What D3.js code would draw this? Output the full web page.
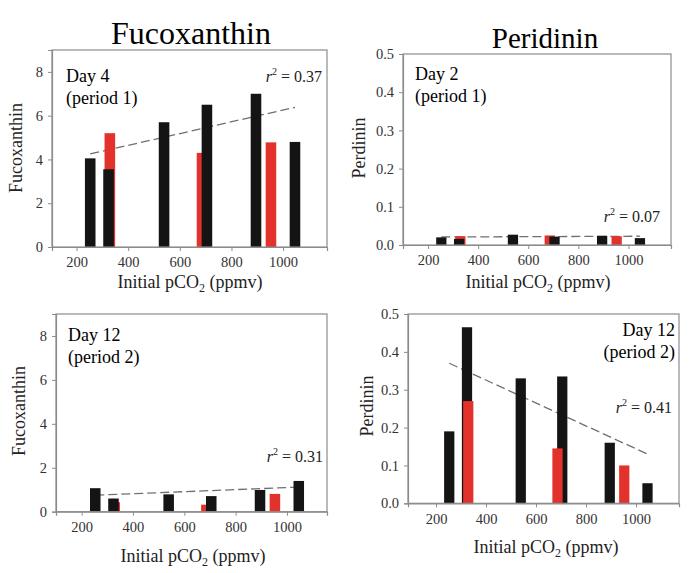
<!DOCTYPE html>
<html>
<head>
<meta charset="utf-8">
<script src="https://cdn.jsdelivr.net/npm/d3@7"></script>
<style>
  html, body { margin: 0; padding: 0; background: #fff; }
  svg { display: block; }
  svg text { font-family: "Liberation Serif", "Times New Roman", serif; }
</style>
</head>
<body>
<svg id="chart" width="694" height="573"></svg>
<script>
// ---------- data ----------
const xTickValues = [200, 400, 600, 800, 1000];
const fucoTicks = [0, 2, 4, 6, 8];
const periTicks = [0, 0.1, 0.2, 0.3, 0.4, 0.5];

// initial pCO2 of each mesocosm (black = one treatment, red = other)
const blackCO2 = [253, 324, 539, 705, 895, 1046];
const redCO2 = [329, 686, 953];

// Fucoxanthin, Day 4 (period 1)
const fucoDay4Black = [4.05, 3.55, 5.7, 6.5, 7.0, 4.8];
const fucoDay4Red = [5.2, 4.3, 4.78];
const fucoDay4Trend = [4.25, 6.38];
// Perdinin, Day 2 (period 1)
const periDay2Black = [0.020, 0.016, 0.027, 0.022, 0.024, 0.018];
const periDay2Red = [0.023, 0.025, 0.023];
const periDay2Trend = [0.021, 0.023];
// Fucoxanthin, Day 12 (period 2)
const fucoDay12Black = [1.07, 0.6, 0.79, 0.71, 0.99, 1.40];
const fucoDay12Red = [0.43, 0.32, 0.81];
const fucoDay12Trend = [0.75, 1.12];
// Perdinin, Day 12 (period 2)
const periDay12Black = [0.19, 0.465, 0.33, 0.335, 0.16, 0.053];
const periDay12Red = [0.27, 0.145, 0.10];
const periDay12Trend = [0.37, 0.13];
const trendCO2 = [253, 1046];

const r2Labels = ["0.37", "0.07", "0.31", "0.41"];

// ---------- drawing ----------
const svg = d3.select("#chart");
const FONT = '"Liberation Serif", "Times New Roman", serif';
const FRAME = "#8c8c8c";
const BLACK = "#141414";
const RED = "#e3312b";
const BAR_W = 41; // in ppmv units

svg.append("text").attr("x", 191).attr("y", 44).attr("text-anchor", "middle")
  .attr("font-size", 32).attr("fill", "#000").text("Fucoxanthin");
svg.append("text").attr("x", 545).attr("y", 48).attr("text-anchor", "middle")
  .attr("font-size", 29).attr("fill", "#000").text("Peridinin");

function panel(p) {
  const g = svg.append("g");
  const x = d3.scaleLinear().domain(p.xDomain).range([p.left, p.right]);
  const y = d3.scaleLinear().domain(p.yDomain).range([p.bottom, p.top]);
  const bw = x(BAR_W) - x(0);

  // trend line (behind the bars)
  g.append("path")
    .attr("d", d3.line().x(d => x(d[0])).y(d => y(d[1]))(d3.zip(trendCO2, p.trend)))
    .attr("fill", "none").attr("stroke", "#707070").attr("stroke-width", 1.3)
    .attr("stroke-dasharray", "9,4");

  const blacks = d3.zip(blackCO2, p.black);
  const reds = d3.zip(redCO2, p.red);
  const drawBars = (data, color) => g.append("g").selectAll("rect").data(data).join("rect")
    .attr("x", d => x(d[0]) - bw / 2).attr("width", bw)
    .attr("y", d => y(d[1])).attr("height", d => y(0) - y(d[1]))
    .attr("fill", color);
  if (p.redOnTop) { drawBars(blacks, BLACK); drawBars(reds, RED); }
  else { drawBars(reds, RED); drawBars(blacks, BLACK); }

  // frame
  g.append("rect").attr("x", p.left).attr("y", p.top)
    .attr("width", p.right - p.left).attr("height", p.bottom - p.top)
    .attr("fill", "none").attr("stroke", FRAME).attr("stroke-width", 1.2);

  const xa = g.append("g").attr("transform", `translate(0,${p.bottom})`)
    .call(d3.axisBottom(x).tickValues(xTickValues).tickSize(4).tickPadding(6).tickFormat(d3.format("d")));
  const ya = g.append("g").attr("transform", `translate(${p.left},0)`)
    .call(d3.axisLeft(y).tickValues(p.yTicks).tickSize(4).tickPadding(5).tickFormat(p.fmt));
  [xa, ya].forEach(a => {
    a.attr("font-family", null).attr("font-size", null);
    a.select(".domain").attr("stroke", FRAME).attr("stroke-width", 1.2);
    a.selectAll(".tick line").attr("stroke", FRAME);
    a.selectAll(".tick text").style("font-family", FONT)
      .style("font-size", "14.5px").attr("fill", "#333");
  });

  // axis titles
  const xt = g.append("text").attr("x", p.xTitleX).attr("y", p.xTitleY)
    .attr("text-anchor", "middle").attr("font-size", 18).attr("fill", "#222");
  xt.append("tspan").text("Initial pCO");
  xt.append("tspan").attr("font-size", 12).attr("dy", 4).text("2");
  xt.append("tspan").attr("dy", -4).text(" (ppmv)");

  g.append("text").attr("transform", `translate(${p.yTitleX},${p.yTitleY}) rotate(-90)`)
    .attr("text-anchor", "middle").attr("font-size", 18).attr("fill", "#222").text(p.yTitle);

  // day labels
  const anchor = p.dayAnchor || "start";
  g.append("text").attr("x", p.dayX).attr("y", p.dayY).attr("text-anchor", anchor)
    .attr("font-size", 18).attr("fill", "#000").text(p.day);
  g.append("text").attr("x", p.dayX).attr("y", p.dayY + 22).attr("text-anchor", anchor)
    .attr("font-size", 18).attr("fill", "#000").text(p.period);

  // r^2
  const rt = g.append("text").attr("x", p.r2X).attr("y", p.r2Y).attr("text-anchor", "end")
    .attr("font-size", 16).attr("fill", "#222");
  rt.append("tspan").attr("font-style", "italic").text("r");
  rt.append("tspan").attr("font-size", 10).attr("dy", -7).text("2");
  rt.append("tspan").attr("dy", 7).text(" = " + p.r2);
}

panel({
  left: 52, right: 327, top: 50, bottom: 247, xDomain: [105, 1170], yDomain: [0, 9],
  yTicks: fucoTicks, fmt: d3.format("d"),
  black: fucoDay4Black, red: fucoDay4Red, trend: fucoDay4Trend, redOnTop: false,
  xTitleX: 190, xTitleY: 288, yTitle: "Fucoxanthin", yTitleX: 22, yTitleY: 148,
  day: "Day 4", period: "(period 1)", dayX: 66, dayY: 82,
  r2: r2Labels[0], r2X: 322, r2Y: 82
});
panel({
  left: 403, right: 671, top: 54, bottom: 245, xDomain: [100, 1170], yDomain: [0, 0.5],
  yTicks: periTicks, fmt: d3.format(".1f"),
  black: periDay2Black, red: periDay2Red, trend: periDay2Trend, redOnTop: false,
  xTitleX: 538, xTitleY: 288, yTitle: "Perdinin", yTitleX: 365, yTitleY: 148,
  day: "Day 2", period: "(period 1)", dayX: 415, dayY: 80,
  r2: r2Labels[1], r2X: 660, r2Y: 222
});
panel({
  left: 56, right: 327, top: 314, bottom: 511.7, xDomain: [100, 1156], yDomain: [0, 9],
  yTicks: fucoTicks, fmt: d3.format("d"),
  black: fucoDay12Black, red: fucoDay12Red, trend: fucoDay12Trend, redOnTop: false,
  xTitleX: 193, xTitleY: 562, yTitle: "Fucoxanthin", yTitleX: 25, yTitleY: 411,
  day: "Day 12", period: "(period 2)", dayX: 68, dayY: 341,
  r2: r2Labels[2], r2X: 323, r2Y: 462
});
panel({
  left: 408, right: 679, top: 314, bottom: 503.3, xDomain: [88, 1172], yDomain: [0, 0.5],
  yTicks: periTicks, fmt: d3.format(".1f"),
  black: periDay12Black, red: periDay12Red, trend: periDay12Trend, redOnTop: true,
  xTitleX: 546, xTitleY: 553, yTitle: "Perdinin", yTitleX: 373, yTitleY: 406,
  day: "Day 12", period: "(period 2)", dayX: 675, dayY: 336, dayAnchor: "end",
  r2: r2Labels[3], r2X: 672, r2Y: 413
});
</script>
</body>
</html>
